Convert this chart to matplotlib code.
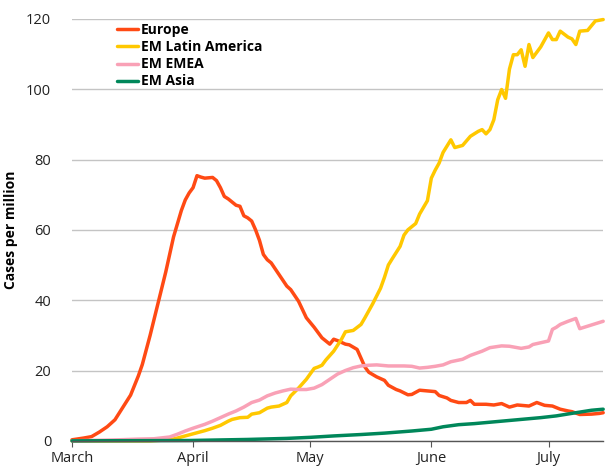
import pandas as pd
import matplotlib.pyplot as plt
import matplotlib.dates as mdates

# day offsets from 1 March, values in cases per million (7-day avg)
eu_day = [0, 3, 5, 7, 9, 11, 13, 15, 17, 18, 20, 22, 24, 26, 28, 29, 30, 31, 32, 33,
          34, 36, 37, 38, 39, 40, 42, 43, 44, 45, 46, 47, 48, 49, 50, 51, 53, 55, 56, 58,
          60, 62, 64, 66, 67, 68, 70, 71, 73, 74, 75, 76, 78, 80, 81, 83, 84, 86, 87, 89,
          91, 93, 94, 96, 97, 99, 101, 102, 103, 106, 108, 110, 112, 114, 117, 119, 121, 123, 125, 127,
          128, 130, 133, 135, 136]
eu_val = [0.3, 0.8, 1.2, 2.5, 4, 6, 9.5, 13, 18.5, 21.7, 30, 39, 48, 58, 65.5, 68.5, 70.5, 72, 75.4, 75,
          74.7, 74.9, 74, 72, 69.5, 68.8, 67, 66.7, 64, 63.4, 62.5, 60, 57, 53, 51.5, 50.6, 47.3, 44, 43, 39.7,
          35, 32.3, 29.3, 27.5, 28.9, 28.5, 27.5, 27.3, 26, 23.5, 21, 19.5, 18.2, 17.2, 15.8, 14.6, 14.2, 13.1, 13.2, 14.4,
          14.2, 14, 12.9, 12.2, 11.5, 10.9, 10.9, 11.5, 10.4, 10.4, 10.2, 10.6, 9.6, 10.2, 9.9, 10.9, 10.1, 9.9, 9, 8.5,
          8.3, 7.5, 7.6, 7.8, 8]

la_day = [0, 20, 25, 27, 29, 31, 34, 36, 38, 40, 41, 43, 45, 46, 48, 50, 51, 53, 55, 56,
          58, 60, 62, 63, 64, 65, 67, 69, 70, 72, 74, 75, 77, 79, 80, 81, 82, 84, 85, 86,
          88, 89, 91, 92, 93, 94, 95, 97, 98, 100, 102, 104, 105, 106, 107, 108, 109, 110, 111, 112,
          113, 114, 115, 116, 117, 118, 120, 122, 123, 124, 125, 127, 128, 129, 130, 132, 134, 136]
la_val = [0, 0, 0.3, 0.8, 1.4, 2, 2.9, 3.6, 4.4, 5.6, 6.1, 6.6, 6.7, 7.6, 8, 9.3, 9.6, 9.9, 10.9, 12.8,
          15, 17.5, 20.6, 21, 21.5, 23, 25.5, 28.9, 31, 31.4, 33.1, 35, 39, 43.4, 46.5, 50, 51.8, 55.3, 58.5, 60,
          61.8, 64.5, 68.3, 74.7, 77, 79, 82, 85.6, 83.4, 84, 86.6, 88, 88.5, 87.3, 88.5, 91.3, 97, 99.9, 97.4, 105.7,
          109.8, 109.8, 111.2, 106.5, 112.7, 109, 112, 116, 114.1, 114.1, 116.5, 114.8, 114.3, 112.7, 116.5, 116.7, 119.4, 119.8]

emea_day = [0, 12, 17, 21, 25, 27, 29, 31, 34, 36, 38, 40, 42, 44, 46, 48, 50, 52, 54, 56,
            58, 60, 62, 64, 66, 68, 70, 72, 74, 76, 78, 81, 85, 87, 89, 91, 93, 95, 97, 100,
            102, 105, 107, 110, 112, 115, 117, 118, 120, 122, 123, 124, 125, 127, 129, 130, 132, 134, 136]
emea_val = [0, 0.3, 0.5, 0.6, 1.1, 1.9, 2.8, 3.6, 4.7, 5.6, 6.6, 7.6, 8.5, 9.6, 10.9, 11.6, 12.8, 13.6, 14.2, 14.7,
            14.6, 14.6, 15, 16, 17.5, 19, 20, 20.8, 21.3, 21.5, 21.6, 21.3, 21.3, 21.2, 20.7, 20.9, 21.2, 21.6, 22.5, 23.2,
            24.3, 25.5, 26.5, 27, 26.9, 26.3, 26.7, 27.4, 27.9, 28.4, 31.7, 32.3, 33.1, 34, 34.8, 31.9, 32.6, 33.3, 34]

asia_day = [0, 30, 45, 55, 61, 67, 74, 80, 87, 92, 95, 99, 103, 107, 112, 116, 120, 124, 129, 133, 136]
asia_val = [0, 0.1, 0.4, 0.7, 1, 1.4, 1.8, 2.2, 2.8, 3.3, 4, 4.6, 4.9, 5.3, 5.8, 6.2, 6.6, 7.1, 8, 8.7, 9]

series = [
    ("Europe", eu_day, eu_val, "#ff4a14"),
    ("EM Latin America", la_day, la_val, "#ffc800"),
    ("EM EMEA", emea_day, emea_val, "#f9a1b6"),
    ("EM Asia", asia_day, asia_val, "#00875a"),
]

start = pd.Timestamp("2020-03-01")

plt.rcParams["font.family"] = ["Open Sans", "DejaVu Sans"]

fig = plt.figure(figsize=(6.05, 4.71), dpi=100)
ax = fig.add_axes([0.119, 0.064, 0.878, 0.896])

for name, days, vals, col in series:
    dates = start + pd.to_timedelta(days, unit="D")
    ax.plot(dates, vals, color=col, lw=2.5, label=name, solid_capstyle="round",
            solid_joinstyle="round", clip_on=False)

ax.set_xlim(start, start + pd.Timedelta(days=136))
ax.set_ylim(0, 120)
ax.set_yticks(range(0, 121, 20))
ax.yaxis.grid(True, color="#c4c4c4", lw=1)
ax.set_axisbelow(True)

ax.xaxis.set_major_locator(mdates.MonthLocator())
ax.xaxis.set_major_formatter(mdates.DateFormatter("%B"))

for s in ["top", "right", "left"]:
    ax.spines[s].set_visible(False)
ax.spines["bottom"].set_color("#555555")
ax.spines["bottom"].set_linewidth(1)
ax.tick_params(axis="y", length=0, pad=15, labelsize=10.5, labelcolor="#222222")
ax.tick_params(axis="x", length=4, color="#555555", pad=3, labelsize=10.5, labelcolor="#222222")

ax.set_ylabel("Cases per million", fontweight="bold", fontsize=10, labelpad=6)

leg = ax.legend(loc="upper left", bbox_to_anchor=(0.072, 1.006), frameon=False,
                handlelength=1.5, handletextpad=0.2, labelspacing=0.22, borderpad=0,
                prop={"weight": "bold", "size": 10})

fig.savefig("out.png", dpi=100)
